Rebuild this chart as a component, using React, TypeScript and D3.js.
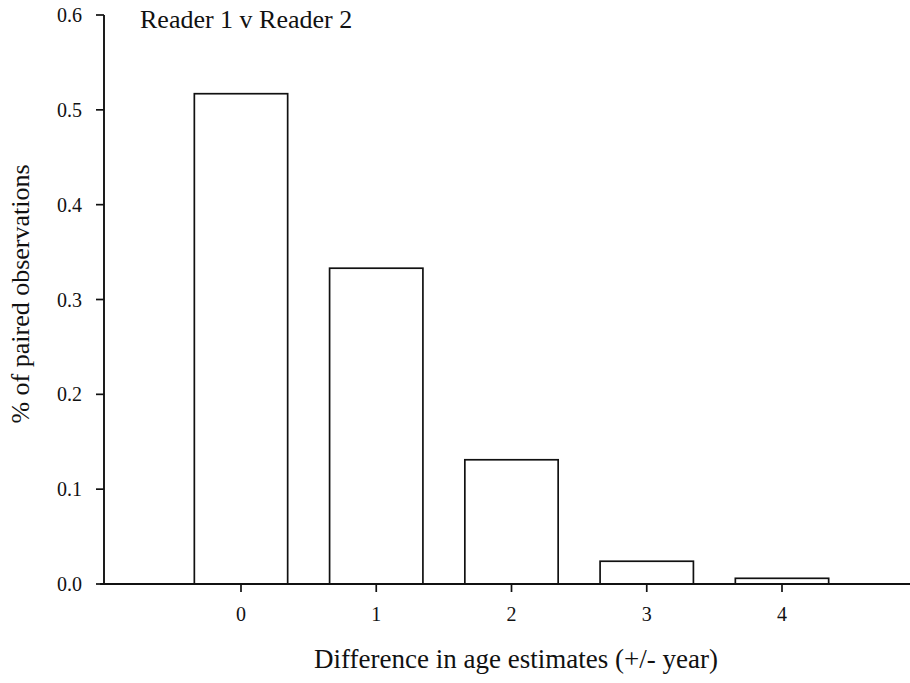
import React from "react";
import * as d3 from "d3";

// Age-difference categories and share of paired observations in each
const differences = [0, 1, 2, 3, 4];
const shares = [0.517, 0.333, 0.131, 0.024, 0.006];
const yTickValues = [0, 0.1, 0.2, 0.3, 0.4, 0.5, 0.6];

const title = "Reader 1 v Reader 2";
const xLabel = "Difference in age estimates (+/- year)";
const yLabel = "% of paired observations";

const W = 910;
const H = 683;
const FONT = "'Liberation Serif', 'Times New Roman', serif";

export default function App() {
  const x = d3.scaleLinear().domain([0, 4]).range([241, 782]);
  const y = d3.scaleLinear().domain([0, 0.6]).range([584, 15]);
  const barW = x(0.69) - x(0);
  const axisX = 104;
  const fmt = d3.format(".1f");

  return (
    <svg
      width={W}
      height={H}
      style={{ position: "absolute", left: 0, top: 0, background: "#fff" }}
    >
      {/* bars */}
      {differences.map((d, i) => (
        <rect
          key={d}
          x={x(d) - barW / 2}
          y={y(shares[i])}
          width={barW}
          height={y(0) - y(shares[i])}
          fill="#fff"
          stroke="#111"
          strokeWidth={1.7}
        />
      ))}

      {/* y axis */}
      <line x1={axisX} x2={axisX} y1={y(0.6)} y2={y(0)} stroke="#111" strokeWidth={1.9} />
      {yTickValues.map((t) => (
        <g key={t}>
          <line x1={axisX - 8} x2={axisX} y1={y(t)} y2={y(t)} stroke="#111" strokeWidth={1.7} />
          <text
            x={82}
            y={y(t)}
            dy="0.35em"
            textAnchor="end"
            fontFamily={FONT}
            fontSize={20}
            fill="#111"
          >
            {fmt(t)}
          </text>
        </g>
      ))}

      {/* x axis */}
      <line x1={100} x2={910} y1={y(0)} y2={y(0)} stroke="#111" strokeWidth={1.9} />
      {differences.map((d) => (
        <g key={d}>
          <line x1={x(d)} x2={x(d)} y1={y(0)} y2={y(0) + 8} stroke="#111" strokeWidth={1.7} />
          <text
            x={x(d)}
            y={621}
            textAnchor="middle"
            fontFamily={FONT}
            fontSize={20}
            fill="#111"
          >
            {d}
          </text>
        </g>
      ))}

      {/* labels */}
      <text x={140} y={28} fontFamily={FONT} fontSize={26} fill="#111">
        {title}
      </text>
      <text
        x={516}
        y={668}
        textAnchor="middle"
        fontFamily={FONT}
        fontSize={27}
        fill="#111"
      >
        {xLabel}
      </text>
      <text
        transform={`translate(29, 294) rotate(-90)`}
        textAnchor="middle"
        fontFamily={FONT}
        fontSize={26}
        fill="#111"
      >
        {yLabel}
      </text>
    </svg>
  );
}
